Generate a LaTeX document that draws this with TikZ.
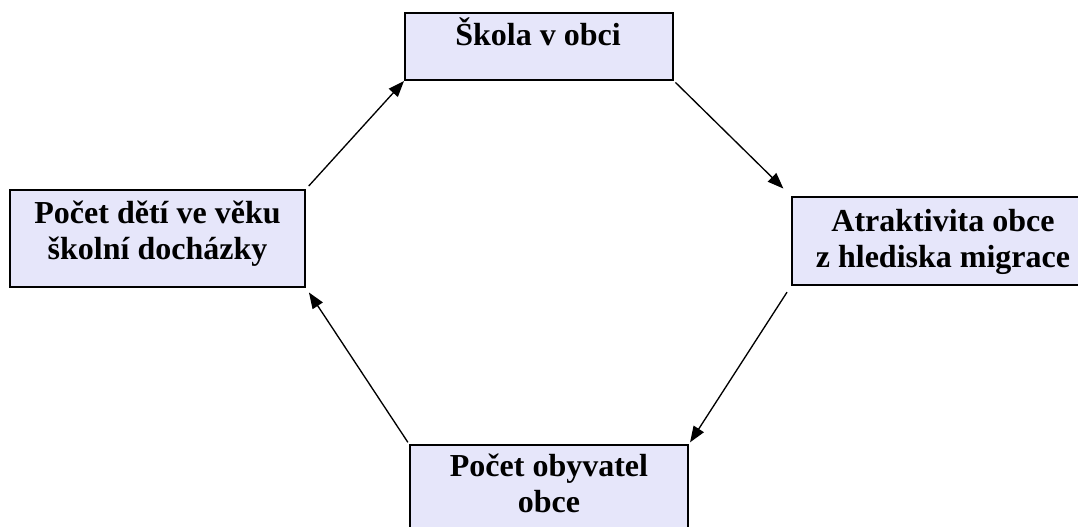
\documentclass[tikz,border=0pt]{standalone}
\usepackage{fontspec}
\setmainfont{Liberation Serif}
\usepackage{tikz}
\usetikzlibrary{positioning,arrows.meta}
\usepackage{xcolor}
\definecolor{boxfill}{RGB}{230,230,250}

\begin{document}
\begin{tikzpicture}[x=0.75pt,y=-0.75pt,
    box/.style={draw, line width=1.5pt, fill=boxfill, inner sep=0pt},
    lbl/.style={align=center, inner sep=0pt, font=\bfseries\fontsize{24}{27}\selectfont},
    flow/.style={-{Triangle[length=12pt,width=9pt]}, line width=1pt}]
                \clip (0,0) rectangle (1078,526);

                % School box
                \node[box, minimum width=201pt, minimum height=50.25pt] (skola) at (539,46.5) {};
                \node[lbl, anchor=base] (skolaT) at (538,45) {Škola v obci};

                % Attractiveness box
                \node[box, minimum width=226.5pt, minimum height=66pt] (atrakt) at (943,241) {};
                \node[lbl] (atraktT) at (943,242) {Atraktivita obce\\z hlediska migrace};

                % Population box
                \node[box, minimum width=208.5pt, minimum height=72.75pt] (obyv) at (549,493.5) {};
                \node[lbl] (obyvT) at (549,483) {Počet obyvatel\\obce};

                % Children box
                \node[box, minimum width=221.25pt, minimum height=72.75pt] (deti) at (157.5,238.5) {};
                \node[lbl] (detiT) at (157.5,234) {Počet dětí ve věku\\školní docházky};

                % Loop arrows
                \draw[flow, shorten <=3pt] (deti.north east) -- (skola.south west);
                \draw[flow, shorten <=1.5pt, shorten >=8pt] (skola.south east) -- (atrakt.north west);
                \draw[flow, shorten <=5.5pt, shorten >=1.5pt] (atrakt.south west) -- (obyv.north east);
                \draw[flow, shorten <=1.5pt, shorten >=4pt] (obyv.north west) -- (deti.south east);
            \end{tikzpicture}
\end{document}
